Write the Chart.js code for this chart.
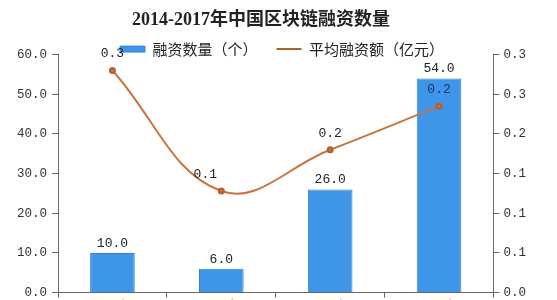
<!DOCTYPE html>
<html>
<head>
<meta charset="utf-8">
<script src="https://cdn.jsdelivr.net/npm/chart.js@4/dist/chart.umd.min.js"></script>
<style>
  html, body { margin: 0; padding: 0; background: #fff; overflow: hidden; }
  #wrap { width: 557px; height: 312px; position: relative; }
</style>
</head>
<body>
<div id="wrap"><canvas id="c"></canvas></div>
<script>
// data
var years = ['2014年', '2015年', '2016年', '2017年'];
var dealCount = [10, 6, 26, 54];
var avgAmount = [0.28, 0.128, 0.18, 0.235];
var countTicks = [0, 10, 20, 30, 40, 50, 60];
var amountTicks = [0, 0.05, 0.1, 0.15, 0.2, 0.25, 0.3];

var monoFont = "'Liberation Mono', 'DejaVu Sans Mono', monospace";
var legendOverlap = 21;

// value labels over bars and line points
var valueLabels = {
  id: 'valueLabels',
  afterDatasetsDraw: function (chart) {
    var ctx = chart.ctx;
    ctx.save();
    ctx.font = '13px ' + monoFont;
    ctx.textAlign = 'center';
    ctx.textBaseline = 'bottom';
    chart.data.datasets.forEach(function (ds, di) {
      var meta = chart.getDatasetMeta(di);
      meta.data.forEach(function (el, i) {
        var v = ds.data[i];
        if (ds.type === 'line') {
          var dx = (i === 1) ? -16 : 0;
          ctx.fillStyle = (i === 3) ? '#1c3570' : '#222';
          ctx.fillText(v.toFixed(1), el.x + dx, el.y - 10);
        } else {
          ctx.fillStyle = '#222';
          ctx.fillText(v.toFixed(1), el.x, el.y - 3);
        }
      });
    });
    ctx.restore();
  }
};

// legend sits on the top line of the plot, title is centred a bit left
var legendInside = {
  id: 'legendInside',
  beforeInit: function (chart) {
    var fit = chart.legend.fit;
    chart.legend.fit = function () {
      fit.bind(chart.legend)();
      this.height -= legendOverlap;
    };
  },
  afterLayout: function (chart) {
    chart.legend.top -= 9;
    chart.legend.bottom += legendOverlap - 9;
    chart.legend.left += 11;
    chart.legend.right += 11;
    if (chart.titleBlock) {
      chart.titleBlock.left -= 10;
      chart.titleBlock.right -= 10;
    }
  }
};

new Chart(document.getElementById('c'), {
  type: 'bar',
  data: {
    labels: years,
    datasets: [
      {
        type: 'line',
        label: '平均融资额（亿元）',
        data: avgAmount,
        yAxisID: 'y1',
        borderColor: '#c8753f',
        backgroundColor: '#c8753f',
        borderWidth: 2,
        pointRadius: 2.5,
        pointBackgroundColor: '#c8753f',
        pointBorderColor: '#b0602f',
        tension: 0.4,
        order: 0
      },
      {
        type: 'bar',
        label: '融资数量（个）',
        data: dealCount,
        yAxisID: 'y',
        backgroundColor: '#3f95e8',
        borderColor: '#3583d2',
        borderWidth: 1,
        categoryPercentage: 1,
        barPercentage: 0.41,
        order: 1
      }
    ]
  },
  options: {
    responsive: true,
    maintainAspectRatio: false,
    animation: false,
    layout: { padding: { left: 12, right: 27, top: 0, bottom: 0 } },
    plugins: {
      title: {
        display: true,
        text: '2014-2017年中国区块链融资数量',
        color: '#222',
        font: { family: "'Liberation Serif', 'Noto Sans CJK SC', serif", size: 18, weight: 'bold' },
        padding: { top: 10, bottom: 0 }
      },
      legend: {
        display: true,
        reverse: true,
        labels: {
          usePointStyle: true,
          pointStyleWidth: 25,
          boxHeight: 6,
          padding: 19,
          color: '#222',
          font: { family: "'Noto Sans CJK SC', sans-serif", size: 15 },
          generateLabels: function (chart) {
            var items = Chart.defaults.plugins.legend.labels.generateLabels(chart);
            items.forEach(function (it) {
              var ds = chart.data.datasets[it.datasetIndex];
              it.pointStyle = ds.type === 'line' ? 'line' : 'rect';
            });
            return items;
          }
        }
      },
      tooltip: { enabled: false }
    },
    scales: {
      x: {
        grid: { drawOnChartArea: false, offset: true, tickLength: 5, color: '#666' },
        border: { color: '#666' },
        ticks: { color: '#bbb', padding: 0, font: { family: "'Noto Sans CJK SC', sans-serif", size: 12 } }
      },
      y: {
        position: 'left',
        min: 0,
        max: 60,
        afterBuildTicks: function (axis) {
          axis.ticks = countTicks.map(function (v) { return { value: v }; });
        },
        grid: { drawOnChartArea: false, tickLength: 6, color: '#666' },
        border: { color: '#666' },
        ticks: {
          color: '#333',
          padding: 5,
          font: { family: monoFont, size: 12.5 },
          callback: function (v) { return Number(v).toFixed(1); }
        }
      },
      y1: {
        position: 'right',
        min: 0,
        max: 0.3,
        afterBuildTicks: function (axis) {
          axis.ticks = amountTicks.map(function (v) { return { value: v }; });
        },
        grid: { drawOnChartArea: false, tickLength: 6, color: '#666' },
        border: { color: '#666' },
        ticks: {
          color: '#333',
          padding: 4,
          font: { family: monoFont, size: 12.5 },
          callback: function (v) { return Number(v).toFixed(1); }
        }
      }
    }
  },
  plugins: [valueLabels, legendInside]
});
</script>
</body>
</html>
